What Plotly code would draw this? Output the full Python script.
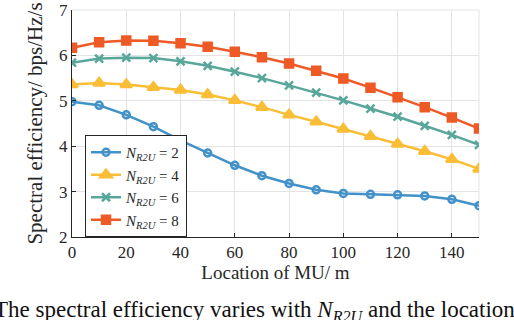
import plotly.graph_objects as go

# Location of MU (m)
location = [0, 10, 20, 30, 40, 50, 60, 70, 80, 90, 100, 110, 120, 130, 140, 150]

# Spectral efficiency for each N_R2U
se_n2 = [4.98, 4.90, 4.69, 4.43, 4.13, 3.85, 3.58, 3.35, 3.18, 3.04, 2.96, 2.94, 2.93, 2.905, 2.83, 2.69]
se_n4 = [5.36, 5.39, 5.36, 5.30, 5.24, 5.14, 5.01, 4.86, 4.69, 4.54, 4.38, 4.22, 4.05, 3.89, 3.71, 3.50]
se_n6 = [5.84, 5.93, 5.95, 5.94, 5.87, 5.77, 5.64, 5.50, 5.34, 5.18, 5.01, 4.83, 4.65, 4.45, 4.25, 4.03]
se_n8 = [6.17, 6.29, 6.33, 6.32, 6.27, 6.19, 6.08, 5.96, 5.82, 5.66, 5.49, 5.29, 5.08, 4.86, 4.63, 4.39]

series_names = [
    "<i>N</i><sub><i>R2U</i></sub> = 2",
    "<i>N</i><sub><i>R2U</i></sub> = 4",
    "<i>N</i><sub><i>R2U</i></sub> = 6",
    "<i>N</i><sub><i>R2U</i></sub> = 8",
]

SERIES_STYLE = [
    ("#4292c9", "circle-open", 7),
    ("#f9bd36", "triangle-up", 10),
    ("#59a69b", "x-thin-open", 8),
    ("#ee5a26", "square", 8),
]

FONT = "Liberation Serif"

fig = go.Figure()

for values, name, (color, symbol, size) in zip([se_n2, se_n4, se_n6, se_n8], series_names, SERIES_STYLE):
    fig.add_trace(go.Scatter(
        x=location,
        y=values,
        name=name,
        mode="lines+markers",
        line=dict(color=color, width=2.5),
        marker=dict(symbol=symbol, size=size, color=color,
                    line=dict(color=color, width=2.5)),
    ))

fig.update_layout(
    width=514,
    height=320,
    margin=dict(l=72, r=35, t=10, b=83),
    plot_bgcolor="white",
    paper_bgcolor="white",
    font=dict(family=FONT, color="#262626", size=17),
    showlegend=True,
    legend=dict(
        x=0.032, y=0.0, xanchor="left", yanchor="bottom",
        bgcolor="white", bordercolor="#262626", borderwidth=1,
        font=dict(family=FONT, size=15),
        tracegroupgap=0,
        itemwidth=30,
    ),
    xaxis=dict(
        range=[0, 150], tickvals=[0, 20, 40, 60, 80, 100, 120, 140],
        showgrid=True, gridcolor="#e3e3e3", gridwidth=1,
        showline=True, linecolor="#262626", linewidth=1,
        ticks="inside", ticklen=4, tickcolor="#262626",
        zeroline=False, mirror=False, automargin=False,
        title=dict(text="Location of MU/ m", font=dict(size=19), standoff=4),
    ),
    yaxis=dict(
        range=[2, 7], tickvals=[2, 3, 4, 5, 6, 7],
        showgrid=True, gridcolor="#e3e3e3", gridwidth=1,
        showline=True, linecolor="#262626", linewidth=1,
        ticks="inside", ticklen=4, tickcolor="#262626",
        zeroline=False, automargin=False,
        title=dict(text="Spectral efficiency/ bps/Hz/s", font=dict(size=21), standoff=10),
    ),
)

# upper/right grid border as in the original
fig.add_shape(type="line", xref="paper", yref="paper", x0=0, x1=1, y0=1, y1=1,
              line=dict(color="#e3e3e3", width=1), layer="below")
fig.add_shape(type="line", xref="paper", yref="paper", x0=1, x1=1, y0=0, y1=1,
              line=dict(color="#e3e3e3", width=1), layer="below")

# figure caption cut off at the bottom
fig.add_annotation(
    text="The spectral efficiency varies with <i>N</i><sub><i>R2U</i></sub> and the location of MU",
    xref="paper", yref="paper", x=-0.197, y=-0.256,
    xanchor="left", yanchor="top", showarrow=False,
    font=dict(family=FONT, size=23, color="#111111"),
)

# drop the default page margin so the figure sits in the window corner
fig.write_html("out.html", config={"displayModeBar": False},
               post_script="document.body.style.margin='0';")
